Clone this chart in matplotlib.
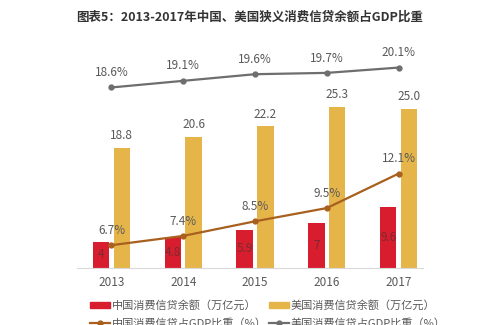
import matplotlib
matplotlib.use("Agg")
import matplotlib.pyplot as plt
from matplotlib.patches import Patch
from matplotlib.lines import Line2D
import numpy as np

plt.rcParams['font.family'] = ['Noto Sans CJK SC', 'DejaVu Sans']

years = ["2013", "2014", "2015", "2016", "2017"]
china_credit = [4, 4.8, 5.9, 7, 9.6]
us_credit = [18.8, 20.6, 22.2, 25.3, 25.0]
china_ratio = [6.7, 7.4, 8.5, 9.5, 12.1]
us_ratio = [18.6, 19.1, 19.6, 19.7, 20.1]

title = "图表5：2013-2017年中国、美国狭义消费信贷余额占GDP比重"
lab_cn_bar = "中国消费信贷余额（万亿元）"
lab_us_bar = "美国消费信贷余额（万亿元）"
lab_cn_line = "中国消费信贷占GDP比重（%）"
lab_us_line = "美国消费信贷占GDP比重（%）"

RED = "#d81e2e"
YELLOW = "#e6b54a"
ORANGE = "#a8601e"
GRAY = "#6e6e6e"
TXT = "#595959"

fig = plt.figure(figsize=(5, 3.25), dpi=100)
ax = fig.add_axes([0.154, 0.1763, 0.692, 0.67])
ax2 = ax.twinx()

x = np.arange(len(years))
w = 0.23
off = 0.145
ax.bar(x - off, china_credit, w, color=RED, zorder=2)
ax.bar(x + off, us_credit, w, color=YELLOW, zorder=2)

ax.set_xlim(-0.48, 4.34)
ax.set_ylim(0, 34.2)
ax2.set_ylim(5, 21.43)

for xi, v in zip(x, china_credit):
    ax.text(xi - off, v / 2, f"{v:g}", ha="center", va="center",
            fontsize=8.5, color="#7a2a30", zorder=3)
for xi, v in zip(x, us_credit):
    ax.annotate(f"{v:.1f}", (xi + off, v), xytext=(0, 4), textcoords="offset points",
                ha="center", va="bottom", fontsize=8.5, color=TXT)

ax2.plot(x, china_ratio, color=ORANGE, lw=1.6, marker="o", ms=3.5, zorder=4)
ax2.plot(x, us_ratio, color=GRAY, lw=1.6, marker="o", ms=3.5, zorder=4)
for xi, v in zip(x, china_ratio):
    ax2.annotate(f"{v:.1f}%", (xi, v), xytext=(0, 6), textcoords="offset points",
                 ha="center", va="bottom", fontsize=8.5, color=TXT)
for xi, v in zip(x, us_ratio):
    ax2.annotate(f"{v:.1f}%", (xi, v), xytext=(0, 6), textcoords="offset points",
                 ha="center", va="bottom", fontsize=8.5, color=TXT)

for a in (ax, ax2):
    for s in ("top", "right", "left"):
        a.spines[s].set_visible(False)
    a.set_yticks([])
ax.spines["bottom"].set_color("#d9d9d9")
ax2.spines["bottom"].set_visible(False)
ax.set_xticks(x)
ax.set_xticklabels(years, fontsize=8.5, color=TXT)
ax.tick_params(axis="x", length=0, pad=6)

fig.text(0.5, 0.948, title, ha="center", va="center", fontsize=9,
         fontweight="bold", color="#333333")

handles = [Patch(color=RED), Line2D([], [], color=ORANGE, lw=1.6, marker="o", ms=3.5),
           Patch(color=YELLOW), Line2D([], [], color=GRAY, lw=1.6, marker="o", ms=3.5)]
labels = [lab_cn_bar, lab_cn_line, lab_us_bar, lab_us_line]
fig.legend(handles, labels, ncol=2, loc="upper left",
           bbox_to_anchor=(90 / 500, 1 - 300 / 325), frameon=False,
           fontsize=8, handlelength=1.8, handleheight=0.5, handletextpad=0.15,
           columnspacing=0.2, borderpad=0, borderaxespad=0, labelspacing=0.64,
           labelcolor=TXT)

fig.savefig("out.png", dpi=100)
